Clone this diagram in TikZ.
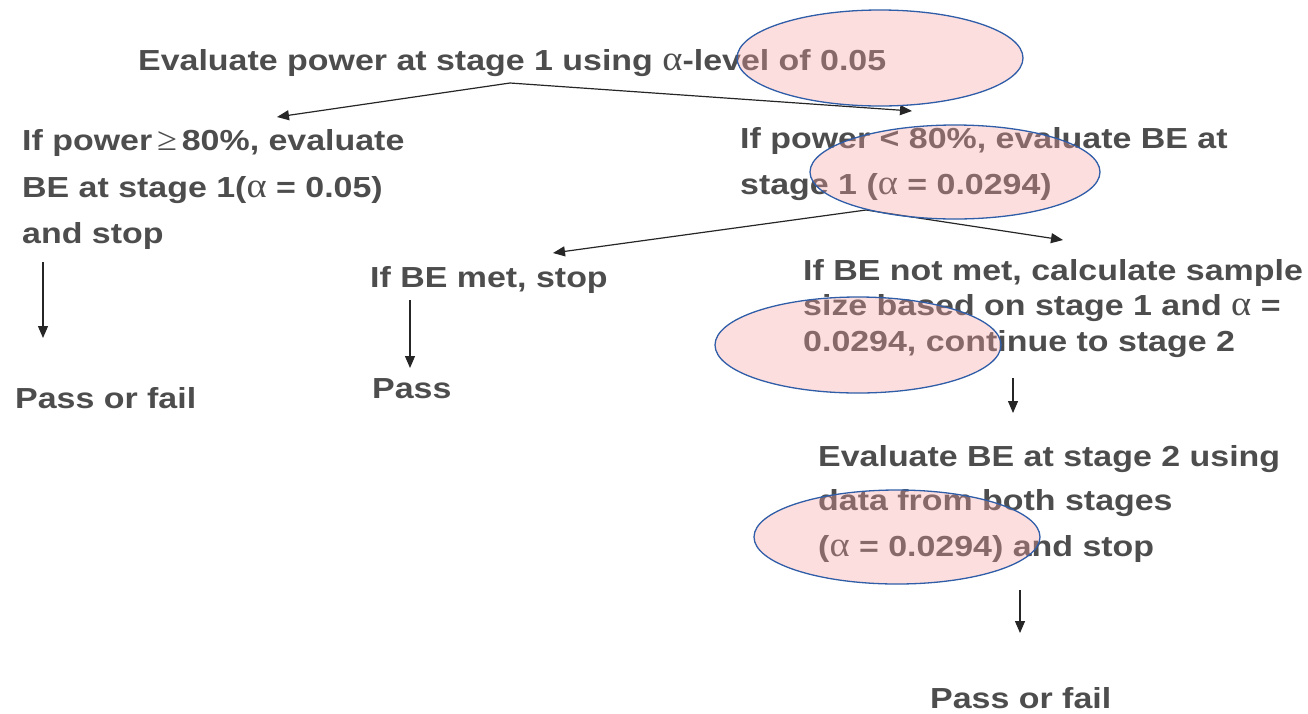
\documentclass[tikz,border=0pt]{standalone}
\usepackage{fontspec}
\setmainfont{Liberation Sans}[FakeStretch=1.17]
\newfontfamily\greekfont{Liberation Serif}[FakeStretch=1.1]
\usetikzlibrary{arrows.meta}
\definecolor{txt}{HTML}{4D4D4D}
\definecolor{ovfill}{RGB}{245,160,160}
\definecolor{ovline}{HTML}{2F5DA8}
\newcommand{\al}{{\greekfont\mdseries\fontsize{35}{35}\selectfont α}}
\newcommand{\geqsym}{{\greekfont\mdseries\fontsize{33}{35}\selectfont ≥}}
\tikzset{
  lbl/.style={anchor=base west, inner sep=0pt, text=txt,
    font=\fontsize{29}{35}\selectfont\bfseries},
  flow/.style={draw=black!85, line width=1.2pt,
    -{Triangle[length=12pt,width=10pt]}},
  mark oval/.style={draw=ovline, line width=1.3pt, fill=ovfill,
    fill opacity=0.35}
}
\begin{document}
\begin{tikzpicture}[x=1pt,y=-1pt]
\useasboundingbox (0,0) rectangle (1308,713);

% stage 1 power check
\node[lbl] (top) at (138,70) {Evaluate power at stage 1 using \al-level of 0.05};

% high power branch
\node[lbl] (hp1) at (22,150) {If power\,\geqsym\,80\%, evaluate};
\node[lbl] (hp2) at (22,197) {BE at stage 1(\al{} = 0.05)};
\node[lbl] (hp3) at (22,243) {and stop};
\node[lbl] (hpres) at (15,408) {Pass or fail};

% low power branch
\node[lbl] (lp1) at (740,148) {If power < 80\%, evaluate BE at};
\node[lbl] (lp2) at (740,194) {stage 1 (\al{} = 0.0294)};

\node[lbl] (met) at (370,287) {If BE met, stop};
\node[lbl] (pass) at (372,398) {Pass};

\node[lbl] (nm1) at (803,280) {If BE not met, calculate sample};
\node[lbl] (nm2) at (803,315) {size based on stage 1 and \al{} =};
\node[lbl] (nm3) at (803,351) {0.0294, continue to stage 2};

% stage 2
\node[lbl] (s21) at (818,466) {Evaluate BE at stage 2 using};
\node[lbl] (s22) at (818,510) {data from both stages};
\node[lbl] (s23) at (818,556) {(\al{} = 0.0294) and stop};
\node[lbl] (s2res) at (930,708) {Pass or fail};

% connector end points
\coordinate (forkA) at (510,83);
\coordinate (hpIn) at (277,117);
\coordinate (lpIn) at (912,111);
\coordinate (hpOut) at (43,262);
\coordinate (hpEnd) at (43,338);
\coordinate (forkB) at (866,210);
\coordinate (metIn) at (553,253);
\coordinate (nmIn) at (1063,240);
\coordinate (metOut) at (410,300);
\coordinate (metEnd) at (410,368);
\coordinate (nmOut) at (1013,378);
\coordinate (nmEnd) at (1013,413);
\coordinate (s2Out) at (1020,590);
\coordinate (s2End) at (1020,633);

\draw[flow] (forkA) -- (hpIn);
\draw[flow] (forkA) -- (lpIn);
\draw[flow] (hpOut) -- (hpEnd);
\draw[flow] (forkB) -- (metIn);
\draw[flow] (forkB) -- (nmIn);
\draw[flow] (metOut) -- (metEnd);
\draw[flow] (nmOut) -- (nmEnd);
\draw[flow] (s2Out) -- (s2End);

% highlight ovals
\draw[mark oval] (880,58) ellipse [x radius=143, y radius=48];
\draw[mark oval] (955,172) ellipse [x radius=145, y radius=47];
\draw[mark oval] (858,345) ellipse [x radius=143, y radius=48];
\draw[mark oval] (897,537) ellipse [x radius=143, y radius=47];
\end{tikzpicture}
\end{document}
